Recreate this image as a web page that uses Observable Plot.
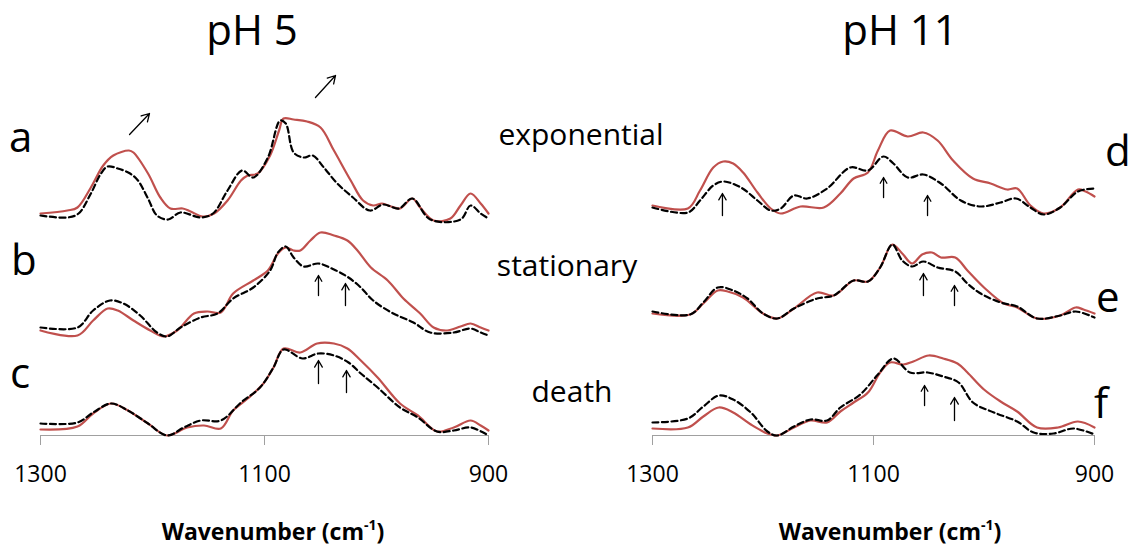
<!DOCTYPE html>
<html>
<head>
<meta charset="utf-8">
<script src="https://cdn.jsdelivr.net/npm/d3@7"></script>
<script src="https://cdn.jsdelivr.net/npm/@observablehq/plot@0.6"></script>
<style>
  body { margin: 0; background: #fff; }
  #fig { position: relative; width: 1134px; height: 547px; overflow: hidden; font-family: "Open Sans", sans-serif; }
  .panel { position: absolute; top: 0; }
  .panel svg { max-width: none; }
  #annotations { position: absolute; left: 0; top: 0; pointer-events: none; }
</style>
</head>
<body>
<div id="fig"></div>
<script>
// FTIR spectra, [wavenumber (cm-1), absorbance (a.u.)]
// pH 5
const pH5ExponentialSolid = [[1300,0.08],[1276,0.11],[1267,0.14],[1255,0.34],[1244,0.56],[1235,0.66],[1221,0.71],[1217,0.69],[1204,0.48],[1193,0.24],[1184,0.13],[1173,0.13],[1166,0.10],[1155,0.05],[1145,0.08],[1133,0.21],[1121,0.41],[1115,0.46],[1106,0.48],[1095,0.66],[1087,0.91],[1083,1.03],[1074,1.02],[1062,1.00],[1050,0.94],[1038,0.71],[1023,0.41],[1012,0.21],[1003,0.16],[995,0.18],[987,0.15],[979,0.13],[968,0.23],[961,0.14],[949,0.01],[934,0.03],[925,0.16],[916,0.28],[907,0.18],[900,0.08]];
const pH5ExponentialDashed = [[1300,0.06],[1276,0.04],[1266,0.08],[1255,0.28],[1246,0.48],[1240,0.55],[1231,0.53],[1220,0.48],[1213,0.41],[1204,0.23],[1196,0.06],[1186,0.02],[1175,0.09],[1157,0.04],[1146,0.08],[1133,0.31],[1120,0.51],[1110,0.44],[1097,0.64],[1086,1.01],[1081,0.98],[1074,0.69],[1065,0.64],[1057,0.66],[1047,0.54],[1035,0.38],[1021,0.24],[1006,0.11],[994,0.17],[980,0.13],[968,0.23],[952,0.02],[925,0.02],[916,0.16],[907,0.08],[900,0.03]];
const pH5StationarySolid = [[1300,0.07],[1267,0.02],[1253,0.17],[1240,0.29],[1231,0.27],[1217,0.17],[1202,0.07],[1190,0.01],[1178,0.07],[1163,0.24],[1151,0.26],[1139,0.25],[1128,0.44],[1110,0.57],[1097,0.67],[1088,0.84],[1081,0.90],[1074,0.87],[1068,0.87],[1059,0.97],[1050,1.05],[1038,1.02],[1026,0.97],[1017,0.87],[1005,0.70],[990,0.57],[976,0.39],[961,0.24],[949,0.10],[937,0.07],[925,0.11],[916,0.14],[907,0.10],[900,0.07]];
const pH5StationaryDashed = [[1300,0.10],[1267,0.10],[1253,0.27],[1238,0.37],[1226,0.34],[1211,0.22],[1196,0.05],[1187,0.01],[1175,0.10],[1157,0.20],[1142,0.24],[1128,0.39],[1110,0.50],[1095,0.67],[1088,0.85],[1081,0.91],[1074,0.80],[1065,0.71],[1052,0.74],[1038,0.68],[1025,0.60],[1014,0.50],[1003,0.37],[985,0.24],[967,0.15],[952,0.05],[931,0.05],[916,0.09],[907,0.05],[900,0.02]];
const pH5DeathSolid = [[1300,0.06],[1267,0.09],[1253,0.22],[1237,0.32],[1222,0.25],[1204,0.12],[1187,0.00],[1169,0.08],[1154,0.10],[1139,0.07],[1128,0.25],[1115,0.37],[1101,0.52],[1092,0.68],[1083,0.87],[1068,0.83],[1053,0.92],[1038,0.92],[1026,0.87],[1014,0.75],[999,0.58],[979,0.32],[963,0.20],[946,0.04],[931,0.08],[916,0.15],[907,0.10],[900,0.05]];
const pH5DeathDashed = [[1300,0.12],[1267,0.13],[1253,0.23],[1237,0.32],[1222,0.25],[1204,0.12],[1187,0.00],[1172,0.08],[1157,0.15],[1139,0.15],[1121,0.33],[1104,0.48],[1092,0.68],[1083,0.86],[1066,0.77],[1052,0.82],[1038,0.80],[1025,0.73],[1014,0.62],[999,0.48],[979,0.28],[963,0.18],[946,0.04],[931,0.05],[916,0.08],[900,0.00]];

// pH 11
const pH11ExponentialSolid = [[1300,0.09],[1268,0.06],[1257,0.24],[1245,0.47],[1236,0.53],[1227,0.51],[1218,0.42],[1205,0.22],[1193,0.06],[1184,0.01],[1166,0.08],[1145,0.07],[1130,0.21],[1118,0.36],[1105,0.42],[1096,0.64],[1085,0.84],[1069,0.78],[1055,0.82],[1042,0.74],[1028,0.54],[1010,0.36],[994,0.31],[979,0.25],[970,0.26],[958,0.09],[946,0.01],[931,0.07],[915,0.25],[908,0.23],[900,0.18]];
const pH11ExponentialDashed = [[1300,0.07],[1268,0.02],[1257,0.14],[1245,0.29],[1236,0.33],[1220,0.27],[1205,0.14],[1193,0.04],[1184,0.06],[1172,0.19],[1160,0.16],[1142,0.26],[1121,0.47],[1105,0.44],[1091,0.58],[1082,0.51],[1069,0.37],[1055,0.40],[1039,0.31],[1021,0.14],[1003,0.08],[985,0.12],[971,0.16],[958,0.07],[946,0.00],[931,0.07],[915,0.23],[900,0.26]];
const pH11StationarySolid = [[1300,0.06],[1266,0.05],[1254,0.16],[1241,0.29],[1232,0.28],[1218,0.22],[1200,0.06],[1187,0.01],[1172,0.11],[1151,0.27],[1136,0.24],[1118,0.39],[1105,0.38],[1094,0.52],[1083,0.75],[1074,0.66],[1065,0.56],[1056,0.65],[1047,0.67],[1039,0.62],[1026,0.62],[1015,0.49],[1000,0.32],[982,0.16],[970,0.12],[952,0.01],[931,0.04],[917,0.12],[910,0.10],[900,0.06]];
const pH11StationaryDashed = [[1300,0.08],[1266,0.05],[1254,0.17],[1241,0.32],[1227,0.29],[1214,0.21],[1200,0.06],[1187,0.01],[1172,0.11],[1151,0.21],[1136,0.24],[1118,0.39],[1105,0.38],[1094,0.52],[1083,0.75],[1074,0.59],[1065,0.53],[1055,0.58],[1042,0.52],[1026,0.48],[1015,0.36],[1003,0.26],[985,0.17],[970,0.13],[952,0.01],[931,0.04],[917,0.08],[900,0.02]];
const pH11DeathSolid = [[1300,0.07],[1268,0.08],[1254,0.19],[1240,0.28],[1227,0.23],[1211,0.11],[1196,0.02],[1187,0.00],[1172,0.08],[1157,0.15],[1142,0.13],[1130,0.24],[1118,0.33],[1105,0.43],[1094,0.63],[1085,0.73],[1073,0.71],[1064,0.74],[1050,0.80],[1037,0.77],[1024,0.72],[1015,0.63],[1000,0.46],[985,0.34],[970,0.24],[952,0.08],[933,0.08],[915,0.14],[900,0.08]];
const pH11DeathDashed = [[1300,0.13],[1268,0.17],[1254,0.29],[1240,0.40],[1227,0.36],[1211,0.23],[1196,0.04],[1187,0.00],[1172,0.09],[1157,0.16],[1142,0.15],[1130,0.28],[1112,0.41],[1096,0.61],[1082,0.77],[1067,0.63],[1051,0.63],[1037,0.59],[1023,0.53],[1010,0.33],[991,0.23],[970,0.14],[955,0.03],[937,0.02],[919,0.07],[900,0.01]];

// Band annotations: [wavenumber start, level start, wavenumber end, level end]
const pH5Arrows = [[1220.5,3.01,1202.7,3.22],[1054.5,3.38,1036.6,3.60],[1051.8,1.40,1051.8,1.60],[1027.7,1.30,1027.7,1.52],[1051.8,0.52,1051.8,0.75],[1026.8,0.43,1026.8,0.65]];
const pH11Arrows = [[1236.7,2.20,1236.7,2.42],[1090.9,2.38,1090.9,2.58],[1051.1,2.20,1051.1,2.40],[1054.8,1.40,1054.8,1.62],[1026.7,1.30,1026.7,1.50],[1053.8,0.30,1053.8,0.50],[1026.7,0.15,1026.7,0.38]];

const wavenumberTicks = [1300, 1100, 900];
const growthPhases = ["exponential", "stationary", "death"];
const panelTitles = ["pH 5", "pH 11"];
const panelLetters = [["a", "b", "c"], ["d", "e", "f"]];

// vertical offsets used to stack the three phases in each panel
const stackOffsets = { pH5: [2.14, 0.98, 0], pH11: [2.21, 1.16, 0] };

const RED = "#c0504d";
const fig = document.getElementById("fig");

function spectraPanel({ rows, arrows, left, width, marginLeft, marginRight }) {
  const marks = [Plot.ruleY([0], { stroke: "#a0a0a0", strokeWidth: 1 })];
  for (const r of rows) {
    marks.push(Plot.line(r.solid, {
      x: d => d[0], y: d => d[1] + r.offset,
      stroke: RED, strokeWidth: 2.2, curve: "catmull-rom"
    }));
    marks.push(Plot.line(r.dashed, {
      x: d => d[0], y: d => d[1] + r.offset,
      stroke: "black", strokeWidth: 2.2, strokeDasharray: "6,3.5", curve: "catmull-rom"
    }));
  }
  marks.push(Plot.arrow(arrows, {
    x1: d => d[0], y1: d => d[1], x2: d => d[2], y2: d => d[3],
    stroke: "black", strokeWidth: 1.3, headLength: 10, headAngle: 60
  }));
  marks.push(Plot.axisX({
    ticks: wavenumberTicks, tickFormat: d => String(d),
    tickSize: 10, tickPadding: 20, fontSize: 23,
    stroke: "#a0a0a0", fill: "black", label: null
  }));
  const chart = Plot.plot({
    width, height: 547,
    marginLeft, marginRight, marginTop: 60, marginBottom: 112,
    x: { domain: [1300, 900], label: null },
    y: { domain: [0, 3.75], axis: null },
    style: { fontFamily: "Open Sans, sans-serif", background: "transparent", overflow: "visible" },
    marks
  });
  const holder = document.createElement("div");
  holder.className = "panel";
  holder.style.left = left + "px";
  holder.style.width = width + "px";
  holder.appendChild(chart);
  fig.appendChild(holder);
}

spectraPanel({
  rows: [
    { solid: pH5ExponentialSolid, dashed: pH5ExponentialDashed, offset: stackOffsets.pH5[0] },
    { solid: pH5StationarySolid, dashed: pH5StationaryDashed, offset: stackOffsets.pH5[1] },
    { solid: pH5DeathSolid, dashed: pH5DeathDashed, offset: stackOffsets.pH5[2] }
  ],
  arrows: pH5Arrows, left: 0, width: 530, marginLeft: 40, marginRight: 42
});
spectraPanel({
  rows: [
    { solid: pH11ExponentialSolid, dashed: pH11ExponentialDashed, offset: stackOffsets.pH11[0] },
    { solid: pH11StationarySolid, dashed: pH11StationaryDashed, offset: stackOffsets.pH11[1] },
    { solid: pH11DeathSolid, dashed: pH11DeathDashed, offset: stackOffsets.pH11[2] }
  ],
  arrows: pH11Arrows, left: 600, width: 534, marginLeft: 52, marginRight: 40
});

// titles, panel letters, phase names and axis titles
const svg = d3.select(fig).append("svg")
  .attr("id", "annotations").attr("width", 1134).attr("height", 547)
  .style("font-family", "Open Sans, sans-serif").attr("fill", "black");

const titleX = [252, 900];
panelTitles.forEach((t, i) => svg.append("text").attr("x", titleX[i]).attr("y", 45)
  .attr("text-anchor", "middle").attr("font-size", 42).text(t));

const letterPos = [[[9, 152], [11, 275], [10, 388]], [[1105, 166], [1096, 312], [1094, 418]]];
panelLetters.forEach((col, i) => col.forEach((l, j) => svg.append("text")
  .attr("x", letterPos[i][j][0]).attr("y", letterPos[i][j][1])
  .attr("font-size", 42).text(l)));

const phasePos = [[581, 145], [567, 276], [572, 402]];
growthPhases.forEach((p, j) => svg.append("text").attr("x", phasePos[j][0]).attr("y", phasePos[j][1])
  .attr("text-anchor", "middle").attr("font-size", 30).text(p));

[273, 890].forEach(cx => {
  const t = svg.append("text").attr("x", cx).attr("y", 540)
    .attr("text-anchor", "middle").attr("font-size", 23).attr("font-weight", "bold");
  t.append("tspan").text("Wavenumber (cm");
  t.append("tspan").attr("font-size", 14).attr("dy", -10).text("-1");
  t.append("tspan").attr("dy", 10).text(")");
});
</script>
</body>
</html>
